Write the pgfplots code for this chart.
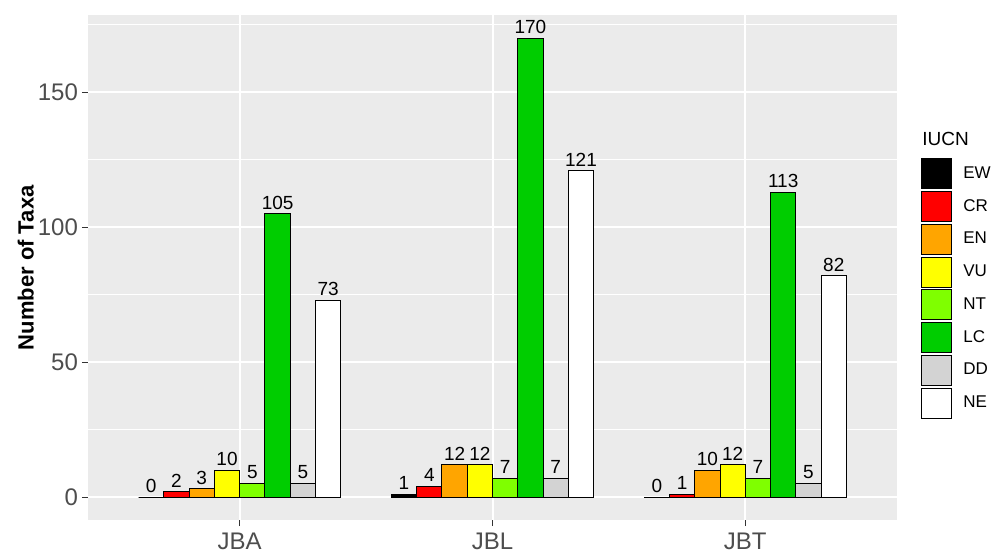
\documentclass[border=0pt]{standalone}
\usepackage{fontspec}
\setmainfont{Liberation Sans}
\usepackage{pgfplots}
\usepackage{pgfplotstable}
\pgfplotsset{compat=1.18}

\definecolor{panel}{HTML}{EBEBEB}
\definecolor{tickgrey}{HTML}{333333}
\definecolor{labgrey}{HTML}{4D4D4D}
\definecolor{cCR}{HTML}{FF0000}
\definecolor{cEN}{HTML}{FFA500}
\definecolor{cVU}{HTML}{FFFF00}
\definecolor{cNT}{HTML}{7FFF00}
\definecolor{cLC}{HTML}{00CD00}
\definecolor{cDD}{HTML}{D3D3D3}

% counts per site and IUCN category
\pgfplotstableread{
x EW CR EN VU NT LC DD NE
1 0 2 3 10 5 105 5 73
2 1 4 12 12 7 170 7 121
3 0 1 10 12 7 113 5 82
}\iucndata

\pgfplotsset{
  iucn/.style={fill=#1, draw=black, line width=0.5pt,
    legend image code/.code={\draw[##1] (0pt,-7.5pt) rectangle (15pt,7.5pt);}},
}

\begin{document}
\begin{tikzpicture}
\path[use as bounding box] (-44pt,-16pt) rectangle (456.5pt,260pt);
\begin{axis}[
  at={(0pt,0pt)}, anchor=south west,
  scale only axis, width=404.5pt, height=252.25pt,
  axis background/.style={fill=panel},
  axis line style={draw=none},
  xmin=0.4, xmax=3.6, ymin=-8.5, ymax=178.5,
  xtick={1,2,3}, xticklabels={JBA,JBL,JBT},
  ytick={0,50,100,150}, minor ytick={25,75,125,175},
  grid=both,
  major grid style={white, line width=1pt},
  minor grid style={white, line width=0.5pt},
  tick align=outside, major tick length=3pt, minor tick length=0pt,
  xtick pos=left, ytick pos=left,
  tick style={color=tickgrey, line width=0.5pt},
  /pgf/number format/assume math mode=true,
  ticklabel style={font=\fontsize{12}{12}\selectfont, text=labgrey},
  yticklabel style={xshift=1.5pt},
  ylabel={\textbf{Number of Taxa}},
  ylabel style={font=\fontsize{11}{11}\selectfont, at={(axis description cs:-0.077,0.5)}, anchor=center, rotate=0},
  ybar=0pt, bar width=0.1,
  nodes near coords,
  every node near coord/.append style={font=\fontsize{9.5}{9.5}\selectfont, text=black, anchor=south, inner sep=0pt, yshift=2pt},
  clip=false,
  legend style={at={(rel axis cs:1,1)}, anchor=north west, xshift=12pt, yshift=-71.25pt,
    draw=none, fill=none, inner sep=0pt, row sep=0.875pt, column sep=3.5pt,
    font=\fontsize{8.5}{9}\selectfont, cells={anchor=west}},
]
\addplot[iucn=black] table[x=x, y=EW] {\iucndata};
\addplot[iucn=cCR] table[x=x, y=CR] {\iucndata};
\addplot[iucn=cEN] table[x=x, y=EN] {\iucndata};
\addplot[iucn=cVU] table[x=x, y=VU] {\iucndata};
\addplot[iucn=cNT] table[x=x, y=NT] {\iucndata};
\addplot[iucn=cLC] table[x=x, y=LC] {\iucndata};
\addplot[iucn=cDD] table[x=x, y=DD] {\iucndata};
\addplot[iucn=white] table[x=x, y=NE] {\iucndata};
\legend{EW,CR,EN,VU,NT,LC,DD,NE}
\end{axis}
\node[anchor=base west, inner sep=0pt, font=\fontsize{9.5}{9.5}\selectfont] at (417pt,187.15pt) {IUCN};
\end{tikzpicture}
\end{document}
